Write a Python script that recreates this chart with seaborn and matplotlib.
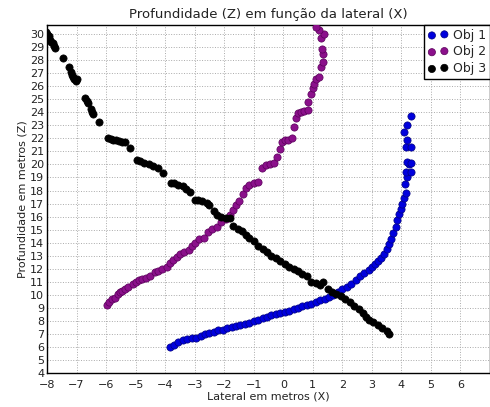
import matplotlib
matplotlib.use("Agg")
import matplotlib.pyplot as plt
import seaborn as sns
import pandas as pd

obj1_x = [-3.84, -3.7, -3.55, -3.4, -3.25, -3.1, -2.95, -2.8, -2.65, -2.5, -2.35, -2.2, -2.05, -1.9,
          -1.75, -1.6, -1.45, -1.3, -1.15, -1.0, -0.85, -0.7, -0.55, -0.4, -0.25, -0.1, 0.05, 0.2,
          0.35, 0.5, 0.65, 0.8, 0.95, 1.1, 1.25, 1.4, 1.55, 1.7, 1.85, 2.0, 2.15, 2.3, 2.45, 2.6,
          2.75, 2.9, 3.0, 3.1, 3.2, 3.3, 3.4, 3.5, 3.58, 3.65, 3.72, 3.8, 3.86, 3.92, 3.98, 4.03,
          4.1, 4.14, 4.12, 4.19, 4.14, 4.31, 4.25, 4.19, 4.32, 4.14, 4.31, 4.2, 4.08, 4.19, 4.31]
obj1_y = [6.0, 6.1, 6.35, 6.5, 6.6, 6.65, 6.7, 6.85, 6.95, 7.05, 7.15, 7.25, 7.3, 7.4,
          7.5, 7.6, 7.65, 7.75, 7.85, 7.95, 8.05, 8.2, 8.3, 8.4, 8.5, 8.55, 8.65, 8.75,
          8.9, 9.0, 9.1, 9.2, 9.3, 9.4, 9.55, 9.7, 9.85, 10.0, 10.2, 10.4, 10.6, 10.85, 11.1, 11.4,
          11.65, 11.9, 12.1, 12.35, 12.6, 12.85, 13.15, 13.5, 13.9, 14.3, 14.7, 15.2, 15.7, 16.2, 16.6, 17.0,
          17.4, 17.8, 18.5, 19.0, 19.4, 19.45, 20.05, 20.2, 20.1, 21.35, 21.35, 21.85, 22.5, 23.0, 23.7]

obj2_x = [-5.98, -5.9, -5.8, -5.7, -5.6, -5.53, -5.45, -5.35, -5.25, -5.1, -5.0, -4.9, -4.78, -4.65,
          -4.5, -4.35, -4.25, -4.1, -3.95, -3.85, -3.75, -3.6, -3.5, -3.35, -3.2, -3.1, -3.0, -2.85,
          -2.7, -2.55, -2.4, -2.25, -2.1, -1.95, -1.82, -1.7, -1.6, -1.5, -1.37, -1.25, -1.15, -1.0,
          -0.87, -0.72, -0.6, -0.45, -0.3, -0.2, -0.12, -0.05, 0.05, 0.15, 0.3, 0.37, 0.43, 0.5,
          0.6, 0.7, 0.82, 0.85, 0.93, 1.0, 1.05, 1.12, 1.2, 1.27, 1.33, 1.35, 1.3, 1.27, 1.38, 1.2, 1.12]
obj2_y = [9.2, 9.4, 9.65, 9.75, 10.05, 10.2, 10.3, 10.45, 10.6, 10.85, 10.95, 11.1, 11.2, 11.3,
          11.45, 11.7, 11.85, 12.0, 12.15, 12.45, 12.65, 12.9, 13.1, 13.3, 13.4, 13.7, 13.95, 14.25,
          14.35, 14.8, 15.05, 15.2, 15.6, 15.8, 16.1, 16.5, 16.9, 17.2, 17.7, 18.2, 18.4, 18.55,
          18.65, 19.7, 19.95, 20.05, 20.1, 20.6, 21.2, 21.7, 21.85, 21.9, 22.0, 22.85, 23.6, 23.95,
          24.05, 24.1, 24.2, 24.8, 25.45, 25.9, 26.2, 26.6, 26.75, 27.5, 27.9, 28.5, 28.9, 29.7, 30.05, 30.3, 30.55]

obj3_x = [-8.05, -8.0, -7.95, -7.9, -7.85, -7.8, -7.75, -7.72, -7.47, -7.25, -7.2, -7.16, -7.12, -7.08,
          -7.02, -6.98, -6.72, -6.66, -6.6, -6.52, -6.48, -6.43, -6.25, -5.95, -5.85, -5.75, -5.65,
          -5.55, -5.45, -5.35, -5.2, -4.95, -4.85, -4.7, -4.55, -4.4, -4.25, -4.07, -3.8, -3.7, -3.55,
          -3.4, -3.28, -3.17, -3.0, -2.9, -2.75, -2.6, -2.5, -2.35, -2.25, -2.1, -1.95, -1.8, -1.7,
          -1.55, -1.4, -1.25, -1.15, -1.0, -0.85, -0.7, -0.55, -0.4, -0.25, -0.1, 0.05, 0.2, 0.35,
          0.5, 0.65, 0.8, 0.95, 1.1, 1.25, 1.35, 1.5, 1.65, 1.8, 1.95, 2.1, 2.25, 2.4, 2.55, 2.7,
          2.8, 2.9, 3.05, 3.2, 3.35, 3.5, 3.58]
obj3_y = [30.2, 30.05, 29.85, 29.6, 29.45, 29.3, 29.1, 28.95, 28.15, 27.5, 27.1, 26.9, 26.7, 26.55,
          26.4, 26.6, 25.1, 24.9, 24.7, 24.25, 24.05, 23.85, 23.25, 22.05, 21.95, 21.9, 21.85,
          21.8, 21.75, 21.7, 21.25, 20.35, 20.25, 20.15, 20.0, 19.9, 19.75, 19.35, 18.6, 18.55, 18.45,
          18.35, 18.15, 17.9, 17.3, 17.25, 17.2, 17.05, 16.9, 16.4, 16.15, 16.0, 15.9, 15.85, 15.3,
          15.05, 14.9, 14.55, 14.35, 14.1, 13.75, 13.5, 13.3, 13.0, 12.8, 12.6, 12.35, 12.15, 12.0,
          11.8, 11.6, 11.45, 11.0, 10.9, 10.75, 10.95, 10.45, 10.2, 10.05, 9.9, 9.7, 9.45, 9.15, 8.9, 8.6,
          8.3, 8.05, 7.9, 7.7, 7.45, 7.2, 7.0]

labels = ["Obj 1", "Obj 2", "Obj 3"]
colors = ["#0000dd", "#8b108b", "#000000"]
edges = ["#000080", "#5a005a", "#000000"]

x_ticks = list(range(-8, 7))
y_ticks = list(range(4, 31))

sns.set_style("whitegrid")
plt.rcParams["font.family"] = ["DejaVu Sans"]

fig = plt.figure(figsize=(4.9, 4.07), dpi=100)
ax = fig.add_axes([0.096, 0.0843, 0.904, 0.8543])

series = [(obj1_x, obj1_y), (obj2_x, obj2_y), (obj3_x, obj3_y)]
for (xs, ys), lab, c, ec in zip(series, labels, colors, edges):
    df = pd.DataFrame({"x": xs, "y": ys})
    sns.scatterplot(data=df, x="x", y="y", ax=ax, color=c, edgecolor=ec,
                    linewidth=0.5, s=27, label=lab, zorder=3)

ax.set_xlim(-8, 7)
ax.set_ylim(4, 30.72)
ax.set_xticks(x_ticks)
ax.set_yticks(y_ticks)
ax.tick_params(axis="both", labelsize=8, length=3, direction="in", colors="#222222")
ax.tick_params(axis="x", pad=5)
ax.tick_params(axis="y", pad=2)
ax.grid(True, linestyle=":", color="#aaaaaa", linewidth=0.7)
for sp in ax.spines.values():
    sp.set_color("#000000")
    sp.set_linewidth(1.0)

ax.set_title("Profundidade (Z) em função da lateral (X)", fontsize=9.5, pad=5, color="#222222")
ax.set_xlabel("Lateral em metros (X)", fontsize=8, labelpad=1, color="#222222")
ax.set_ylabel("Profundidade em metros (Z)", fontsize=8, labelpad=2, color="#222222")

leg = ax.legend(loc="upper right", scatterpoints=2, fontsize=9, borderaxespad=0,
                frameon=True, fancybox=False, handletextpad=0.4, borderpad=0.3,
                labelspacing=0.3, handlelength=1.6)
leg.get_frame().set_edgecolor("#000000")
leg.get_frame().set_linewidth(1.0)
leg.get_frame().set_alpha(1)

fig.savefig("out.png", dpi=100)
